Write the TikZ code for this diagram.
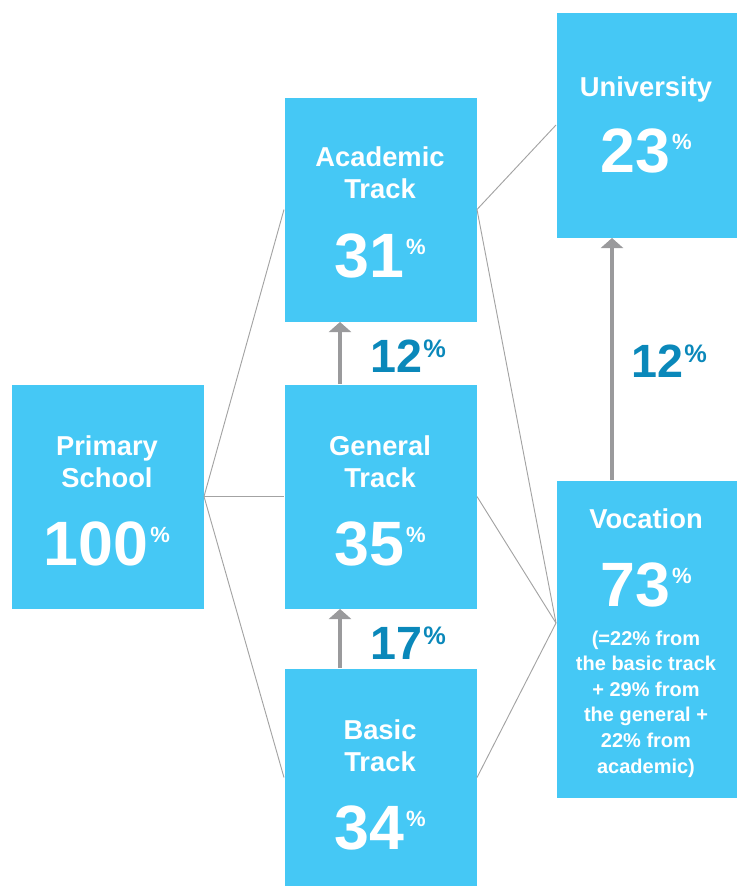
\documentclass[tikz,border=0pt]{standalone}
\usepackage{fontspec}
\setmainfont{Liberation Sans}
\usetikzlibrary{arrows.meta}
\definecolor{boxblue}{HTML}{45C8F5}
\definecolor{pctblue}{HTML}{0A88BA}
\definecolor{arrowgray}{HTML}{9A9A9C}
\definecolor{linkgray}{HTML}{A3A3A3}
\newcommand{\boxpct}[1]{{\fontsize{47pt}{47pt}\selectfont #1}\hspace{1.5pt}\raisebox{17pt}{\fontsize{16.5pt}{16.5pt}\selectfont\%}}
\newcommand{\flowpct}[1]{{\fontsize{35pt}{35pt}\selectfont #1}\hspace{1pt}\raisebox{11pt}{\fontsize{19pt}{19pt}\selectfont\%}}
\tikzset{every picture/.style={line width=0.75pt}}
\tikzset{
  stagebox/.style={fill=boxblue, draw=none, inner sep=0pt, anchor=north west},
  stagetitle/.style={anchor=base, inner sep=0pt, text=white, align=center, font=\fontsize{20.5pt}{24pt}\selectfont\bfseries},
  stagepct/.style={anchor=base, inner sep=0pt, text=white, font=\bfseries},
  stagenote/.style={anchor=base, inner sep=0pt, text=white, align=center, font=\fontsize{15pt}{19.2pt}\selectfont\bfseries},
  flowlabel/.style={anchor=base, inner sep=0pt, text=pctblue, font=\bfseries},
  flowarrow/.style={draw=arrowgray, line width=3pt, -{Triangle[width=16.5pt, length=7.5pt]}},
  link/.style={draw=linkgray, line width=0.7pt}
}

\begin{document}
\begin{tikzpicture}[x=0.75pt,y=0.75pt,yscale=-1,xscale=1]
\useasboundingbox (0,0) rectangle (736,886);
%Shape: Rectangle [id:prim]
\node (prim) [stagebox, minimum width=144pt, minimum height=168pt] at (11,384) {};
%Shape: Rectangle [id:acad]
\node (acad) [stagebox, minimum width=144pt, minimum height=168pt] at (284,97) {};
%Shape: Rectangle [id:gen]
\node (gen) [stagebox, minimum width=144pt, minimum height=168pt] at (284,384) {};
%Shape: Rectangle [id:basic]
\node (basic) [stagebox, minimum width=144pt, minimum height=163.5pt] at (284,668) {};
%Shape: Rectangle [id:univ]
\node (univ) [stagebox, minimum width=135pt, minimum height=168.75pt] at (556,12) {};
%Shape: Rectangle [id:voc]
\node (voc) [stagebox, minimum width=135pt, minimum height=237.75pt] at (556,480) {};
\coordinate (vocin) at ([yshift=-12pt]voc.west);
%Straight Lines
\draw [link] (prim.east) -- (acad.west);
\draw [link] (prim.east) -- (gen.west);
\draw [link] (prim.east) -- (basic.west);
\draw [link] (acad.east) -- (univ.west);
\draw [link] (acad.east) -- (vocin);
\draw [link] (gen.east) -- (vocin);
\draw [link] (basic.east) -- (vocin);
%Arrows
\draw [flowarrow] ([xshift=42pt]gen.north west) -- ([xshift=42pt]acad.south west);
\draw [flowarrow] ([xshift=42pt]basic.north west) -- ([xshift=42pt]gen.south west);
\draw [flowarrow] ([xshift=42pt]voc.north west) -- ([xshift=42pt]univ.south west);
% Text Node
\node (primtitle) [stagetitle] at (107,487) {Primary\\School};
\node (primpct) [stagepct] at (107,565) {\boxpct{100}};
% Text Node
\node (acadtitle) [stagetitle] at (380,198) {Academic\\Track};
\node (acadpct) [stagepct] at (380,277) {\boxpct{31}};
% Text Node
\node (gentitle) [stagetitle] at (380,487) {General\\Track};
\node (genpct) [stagepct] at (380,565) {\boxpct{35}};
% Text Node
\node (basictitle) [stagetitle] at (380,771) {Basic\\Track};
\node (basicpct) [stagepct] at (380,849) {\boxpct{34}};
% Text Node
\node (univtitle) [stagetitle] at (646,96) {University};
\node (univpct) [stagepct] at (646,172) {\boxpct{23}};
% Text Node
\node (voctitle) [stagetitle] at (646,528) {Vocation};
\node (vocpct) [stagepct] at (646,606) {\boxpct{73}};
\node (vocnote) [stagenote] at (646,773) {(=22\% from\\the basic track\\+ 29\% from\\the general +\\22\% from\\academic)};
% Text Node
\node (flowacad) [flowlabel] at (408,372) {\flowpct{12}};
\node (flowbasic) [flowlabel] at (408,659) {\flowpct{17}};
\node (flowuniv) [flowlabel] at (669,377) {\flowpct{12}};
\end{tikzpicture}
\end{document}
